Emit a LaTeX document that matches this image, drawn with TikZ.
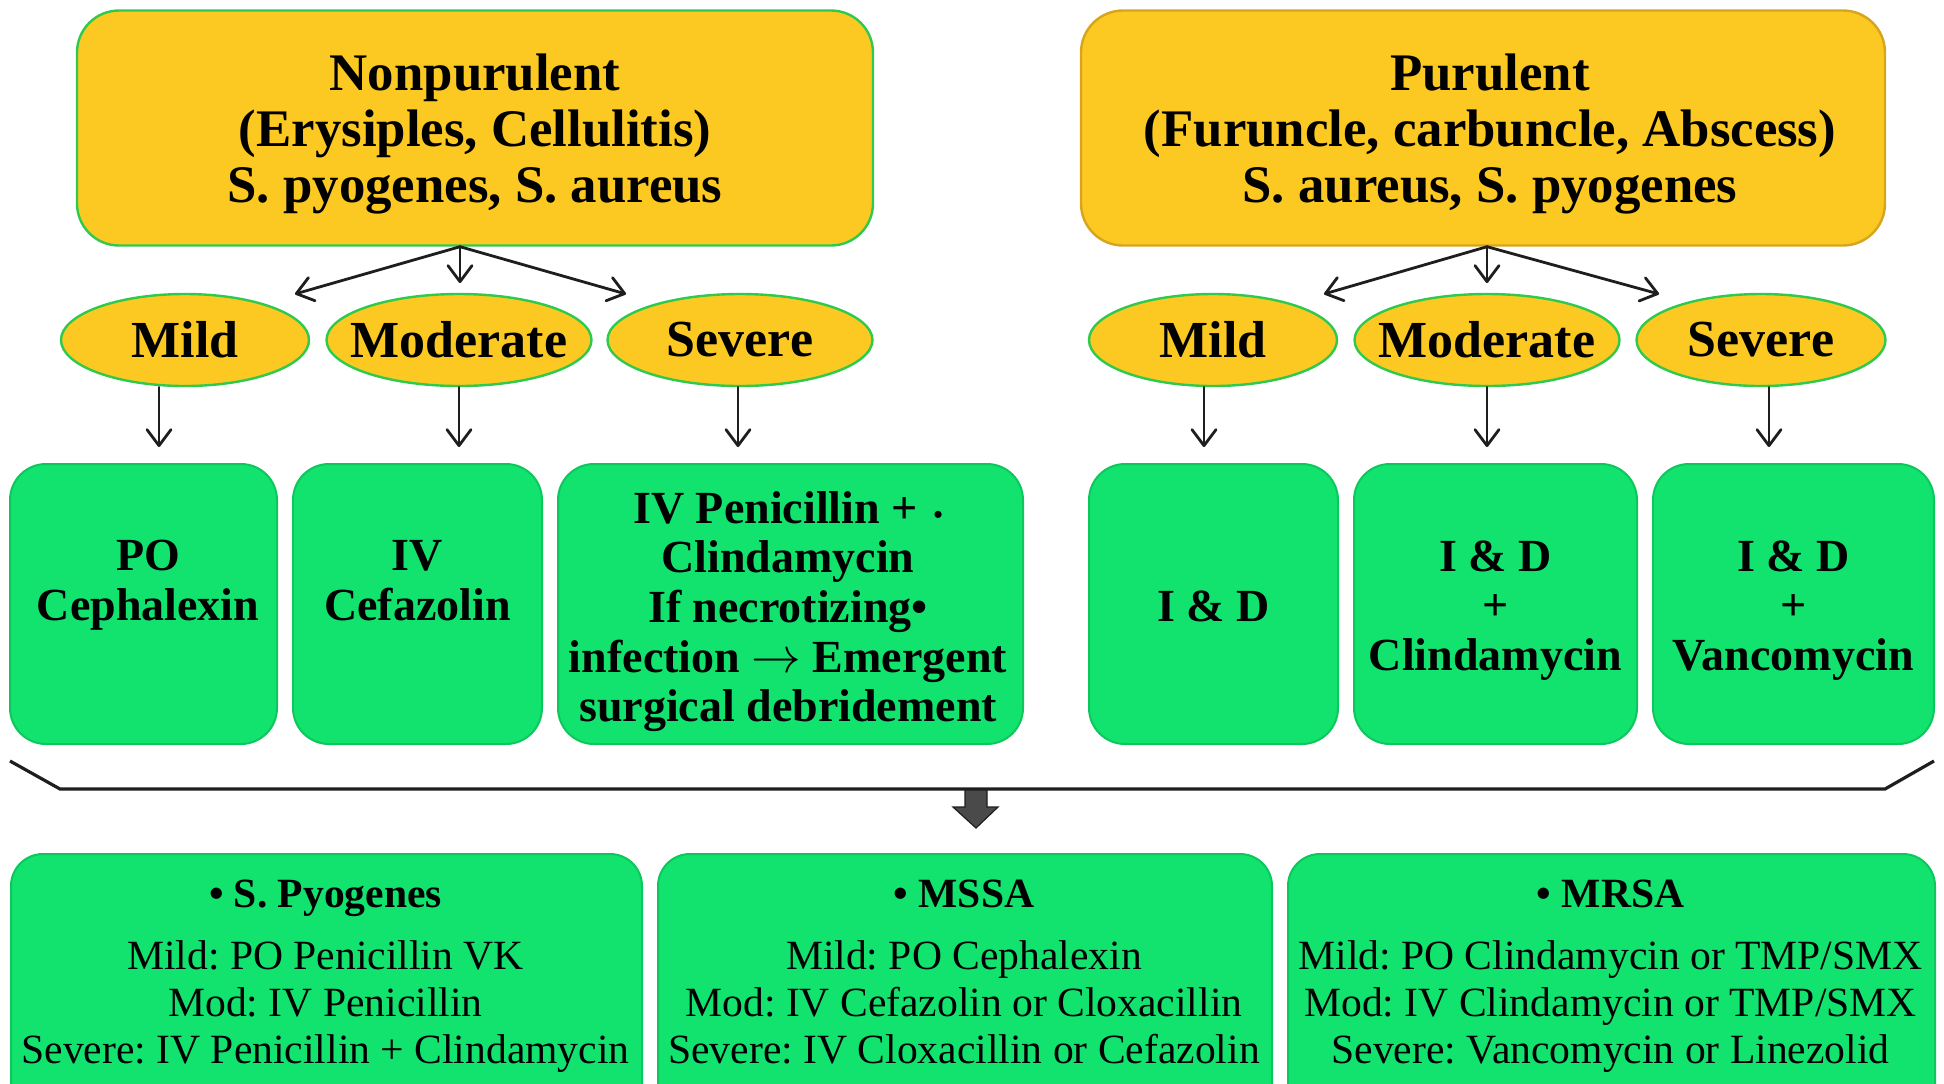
\documentclass[tikz,border=0pt]{standalone}
\usepackage{fontspec}
\setmainfont{Liberation Serif}
\usetikzlibrary{arrows.meta,shapes.geometric}

\definecolor{gold}{HTML}{FCC822}
\definecolor{goldedge}{HTML}{D6A51C}
\definecolor{leaf}{HTML}{2FC94E}
\definecolor{mint}{HTML}{12E36F}
\definecolor{mintedge}{HTML}{0CC85C}
\definecolor{ink}{HTML}{1E1E1E}
\definecolor{blockgray}{HTML}{4A4A4A}

\begin{document}
\frenchspacing
\begin{tikzpicture}[x=0.5pt,y=-0.5pt,
  catbox/.style={draw=#1, line width=1.2pt, fill=gold, rounded corners=21pt,
    minimum height=117.5pt, inner sep=0pt},
  cattext/.style={align=center, inner sep=0pt, anchor=north,
    font=\fontsize{26.4}{28}\selectfont\bfseries},
  grade/.style={ellipse, draw=leaf, line width=1.2pt, fill=gold,
    minimum height=46pt, inner sep=0pt,
    font=\fontsize{26}{28}\selectfont\bfseries},
  rxbox/.style={draw=mintedge, line width=1pt, fill=mint, rounded corners=18pt,
    minimum height=140pt, inner sep=0pt},
  rxtext/.style={align=center, inner sep=0pt, anchor=north,
    font=\fontsize{23}{24.8}\selectfont\bfseries},
  bugbox/.style={draw=mintedge, line width=1pt, fill=mint, rounded corners=16pt,
    anchor=north west, minimum height=160pt},
  bugtext/.style={align=center, inner sep=0pt, anchor=north,
    font=\fontsize{20.8}{23.5}\selectfont},
  arr/.style={draw=ink, line width=1.4pt, line cap=round,
    -{Straight Barb[length=8pt,width=12pt,line width=1.4pt,round]}},
  brace/.style={draw=ink, line width=1.6pt, line join=miter}
]
\useasboundingbox (0,0) rectangle (1944,1083);
\clip (0,0) rectangle (1944,1083);

% category headers
\node[catbox=leaf, minimum width=398pt] (np) at (475,128) {};
\node[catbox=goldedge, minimum width=402pt] (pu) at (1483,128) {};
\node[cattext] (npt) at (475,53)
  {Nonpurulent\\(Erysiples, Cellulitis)\\S. pyogenes, S. aureus};
\node[cattext] (put) at (1490,53)
  {Purulent\\(Furuncle, carbuncle, Abscess)\\S. aureus, S. pyogenes};

% severity grades
\node[grade, minimum width=124pt]   (nmild) at (185,340)  {\makebox[0pt]{Mild}};
\node[grade, minimum width=132.5pt] (nmod)  at (459,340)  {\makebox[0pt]{Moderate}};
\node[grade, minimum width=132.5pt] (nsev)  at (740,340)  {\makebox[0pt]{Severe}};
\node[grade, minimum width=124pt]   (pmild) at (1213,340) {\makebox[0pt]{Mild}};
\node[grade, minimum width=132.5pt] (pmod)  at (1487,340) {\makebox[0pt]{Moderate}};
\node[grade, minimum width=124.5pt] (psev)  at (1761,340) {\makebox[0pt]{Severe}};

% branching arrows
\coordinate (npo) at ([xshift=-7.5pt]np.south);
\coordinate (npl) at (295,294);
\coordinate (npm) at (460,283);
\coordinate (npr) at (626,294);
\coordinate (puo) at ([xshift=2pt]pu.south);
\coordinate (pul) at (1324,294);
\coordinate (pum) at (1487,283);
\coordinate (pur) at (1659,294);
\draw[arr] (npo) -- (npl);
\draw[arr] (npo) -- (npm);
\draw[arr] (npo) -- (npr);
\draw[arr] (puo) -- (pul);
\draw[arr] (puo) -- (pum);
\draw[arr] (puo) -- (pur);

% treatment boxes
\node[rxbox, minimum width=133.5pt] (b1) at (143.5,604) {};
\node[rxbox, minimum width=124.5pt] (b2) at (417.5,604) {};
\node[rxbox, minimum width=232.5pt] (b3) at (790.5,604) {};
\node[rxbox, minimum width=124.5pt] (b4) at (1213.5,604) {};
\node[rxbox, minimum width=141.5pt] (b5) at (1495.5,604) {};
\node[rxbox, minimum width=140.5pt] (b6) at (1793.5,604) {};

\node[rxtext] (b1t) at (148,540) {PO\\Cephalexin};
\node[rxtext] (b2t) at (417.5,540) {IV\\Cefazolin};
\node[rxtext] (b3t) at (788,491)
  {IV Penicillin + {\fontsize{13}{13}\selectfont\,•}\\Clindamycin\\If necrotizing•\\infection $\rightarrow$ Emergent\\surgical debridement};
\node[rxtext] (b4t) at (1213.5,590) {I \& D};
\node[rxtext] (b5t) at (1495.5,540) {I \& D\\+\\Clindamycin};
\node[rxtext] (b6t) at (1793.5,540) {I \& D\\+\\Vancomycin};

% grade to treatment arrows
\draw[arr, shorten >=8pt] ([xshift=-13pt]nmild.south) -- ([xshift=7.75pt]b1.north);
\draw[arr, shorten >=8pt] (nmod.south) -- ([xshift=20.75pt]b2.north);
\draw[arr, shorten >=8pt] ([xshift=-1pt]nsev.south) -- ([xshift=-26.25pt]b3.north);
\draw[arr, shorten >=8pt] ([xshift=-4.5pt]pmild.south) -- ([xshift=-4.75pt]b4.north);
\draw[arr, shorten >=8pt] (pmod.south) -- ([xshift=-4.25pt]b5.north);
\draw[arr, shorten >=8pt] ([xshift=4pt]psev.south) -- ([xshift=-12.25pt]b6.north);

% gathering bracket and block arrow
\coordinate (brl) at (10,761);
\coordinate (brbl) at (60,789);
\coordinate (brbr) at (1885,789);
\coordinate (brr) at (1934,761);
\draw[brace] (brl) -- (brbl) -- (brbr) -- (brr);
\filldraw[fill=blockgray, draw=ink, line width=0.6pt, line join=miter]
  (965,790) -- (987,790) -- (987,807) -- (998,807) -- (976,828)
  -- (953,807) -- (965,807) -- cycle;

% organism-specific regimens
\node[bugbox, minimum width=315.5pt] (s1) at (10,853) {};
\node[bugbox, minimum width=307pt]   (s2) at (657,853) {};
\node[bugbox, minimum width=323.5pt] (s3) at (1287,853) {};

\node[bugtext] (t1) at (325.5,880)
  {\textbf{• S. Pyogenes}\\[7.5pt]Mild: PO Penicillin VK\\Mod: IV Penicillin\\Severe: IV Penicillin + Clindamycin};
\node[bugtext] (t2) at (964,880)
  {\textbf{• MSSA}\\[7.5pt]Mild: PO Cephalexin\\Mod: IV Cefazolin or Cloxacillin\\Severe: IV Cloxacillin or Cefazolin};
\node[bugtext] (t3) at (1610.5,880)
  {\textbf{• MRSA}\\[7.5pt]Mild: PO Clindamycin or TMP/SMX\\Mod: IV Clindamycin or TMP/SMX\\Severe: Vancomycin or Linezolid};
\end{tikzpicture}
\end{document}
